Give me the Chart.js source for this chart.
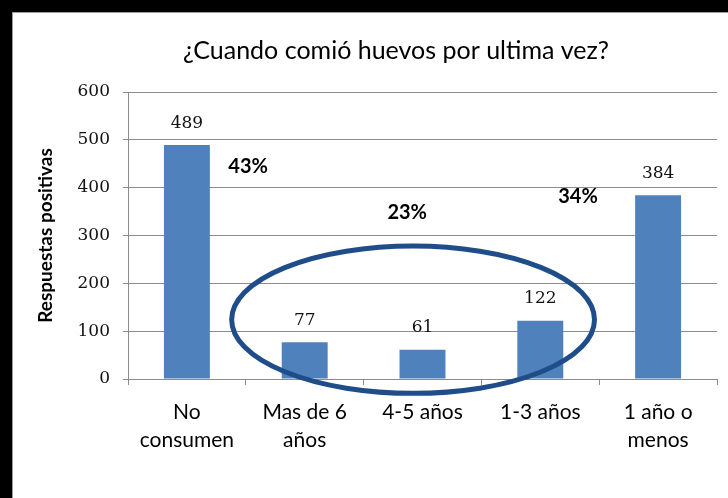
<!DOCTYPE html>
<html lang="es">
<head>
  <meta charset="UTF-8">
  <title>Huevos</title>
  <style>
    html, body { margin: 0; padding: 0; background: #000; }
    canvas { display: block; }
  </style>
</head>
<body>
  <canvas id="chart" width="728" height="498"></canvas>

  <script src="https://cdn.jsdelivr.net/npm/chart.js@4/dist/chart.umd.min.js"></script>

  <script>
    // datos
    const categories = [['No', 'consumen'], ['Mas de 6', 'años'], '4-5 años', '1-3 años', ['1 año o', 'menos']]
    const responses = [489, 77, 61, 122, 384]
    const yTicks = [0, 100, 200, 300, 400, 500, 600]
    const shareLabels = ['43%', '23%', '34%']

    const titleText = '¿Cuando comió huevos por ultima vez?'
    const yTitle = 'Respuestas positivas'

    // donde van los porcentajes (indice de categoria, valor del eje y)
    const sharePos = [[0.52, 445], [1.87, 349], [3.32, 381]]
    // elipse: centro y radios en unidades de los ejes
    const ring = { x: 1.92, y: 124, rx: 1.54, ry: 154 }

    const ctx = document.getElementById('chart').getContext('2d')

    const extras = {
      id: 'extras',
      beforeDraw(chart) {
        const c = chart.ctx
        c.save()
        c.fillStyle = '#000'
        c.fillRect(0, 0, chart.width, chart.height)
        c.fillStyle = '#fff'
        c.fillRect(12, 12, chart.width - 12, chart.height - 12)
        c.strokeStyle = '#9a9a9a'
        c.lineWidth = 1
        c.strokeRect(12.5, 12.5, chart.width, chart.height)
        c.restore()
      },
      afterDatasetsDraw(chart) {
        const c = chart.ctx
        const x = chart.scales.x
        const y = chart.scales.y
        c.save()
        // titulo
        c.fillStyle = '#000'
        c.font = '25px Lato'
        c.textAlign = 'center'
        c.textBaseline = 'middle'
        c.fillText(titleText, 396, 51)

        // valores sobre las barras
        c.font = '17px "DejaVu Serif"'
        c.fillStyle = '#111'
        chart.getDatasetMeta(0).data.forEach((bar, i) => {
          c.fillText(String(responses[i]), bar.x, bar.y - 22)
        })

        // porcentajes
        c.font = 'bold 20px Lato'
        c.fillStyle = '#000'
        shareLabels.forEach((t, i) => {
          const px = x.getPixelForValue(0) + sharePos[i][0] * (x.getPixelForValue(1) - x.getPixelForValue(0))
          c.fillText(t, px, y.getPixelForValue(sharePos[i][1]))
        })

        // elipse
        const step = x.getPixelForValue(1) - x.getPixelForValue(0)
        const cx = x.getPixelForValue(0) + ring.x * step
        const cy = y.getPixelForValue(ring.y)
        const rx = ring.rx * step
        const ry = y.getPixelForValue(0) - y.getPixelForValue(ring.ry)
        c.beginPath()
        c.ellipse(cx, cy, rx, ry, 0, 0, Math.PI * 2)
        c.strokeStyle = '#1f4d89'
        c.lineWidth = 5
        c.stroke()
        c.restore()
      }
    }

    new Chart(ctx, {
      type: 'bar',
      data: {
        labels: categories,
        datasets: [
          {
            data: responses,
            backgroundColor: '#4f81bd',
            borderWidth: 0,
            categoryPercentage: 1,
            barPercentage: 0.39
          }
        ]
      },
      options: {
        responsive: false,
        animation: false,
        devicePixelRatio: 1,
        layout: { padding: { left: 12, top: 92, right: 11, bottom: 0 } },
        plugins: {
          legend: { display: false },
          tooltip: { enabled: false }
        },
        scales: {
          x: {
            afterFit(scale) { scale.height = 119 },
            grid: {
              offset: true,
              drawOnChartArea: false,
              tickLength: 6,
              color: '#8c8c8c'
            },
            border: { color: '#8c8c8c' },
            ticks: {
              color: '#000',
              padding: 13,
              maxRotation: 0,
              autoSkip: false,
              font: { family: 'Lato', size: 21, lineHeight: 1.35 }
            }
          },
          y: {
            min: 0,
            max: 600,
            afterFit(scale) { scale.width = 116 },
            afterBuildTicks(scale) { scale.ticks = yTicks.map(v => ({ value: v })) },
            grid: { color: '#8c8c8c', tickLength: 5 },
            border: { color: '#8c8c8c' },
            ticks: {
              color: '#111',
              padding: 13,
              font: { family: 'DejaVu Serif', size: 17 }
            },
            title: {
              display: true,
              text: yTitle,
              color: '#000',
              padding: { top: 22, bottom: 0 },
              font: { family: 'Lato', size: 19, weight: 'bold' }
            }
          }
        }
      },
      plugins: [extras]
    })
  </script>
</body>
</html>
